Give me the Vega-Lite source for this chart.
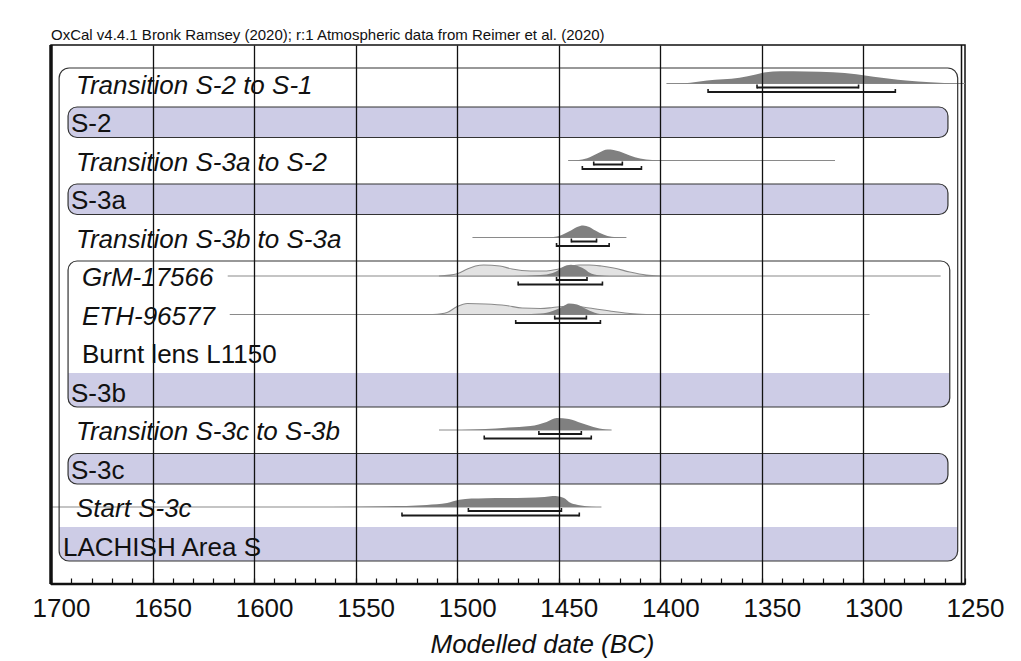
{
  "$schema": "https://vega.github.io/schema/vega-lite/v6.json",
  "width": 914,
  "height": 539,
  "autosize": "none",
  "padding": {"left": 51, "top": 45, "right": 56, "bottom": 77},
  "background": "white",
  "title": {
    "text": "OxCal v4.4.1 Bronk Ramsey (2020); r:1 Atmospheric data from Reimer et al. (2020)",
    "anchor": "start",
    "frame": "group",
    "fontSize": 15,
    "font": "Liberation Sans",
    "fontWeight": "normal",
    "color": "#111111",
    "offset": 0
  },
  "config": {
    "font": "Liberation Sans",
    "view": {"stroke": "#111111", "strokeWidth": 1.5}
  },
  "resolve": {"scale": {"y": "independent"}},
  "datasets": {
    "labels": [
      {"label": "Transition S-2 to S-1", "row": 1, "kind": "boundary"},
      {"label": "S-2", "row": 2, "kind": "phase"},
      {"label": "Transition S-3a to S-2", "row": 3, "kind": "boundary"},
      {"label": "S-3a", "row": 4, "kind": "phase"},
      {"label": "Transition S-3b to S-3a", "row": 5, "kind": "boundary"},
      {"label": "GrM-17566", "row": 6, "kind": "date"},
      {"label": "ETH-96577", "row": 7, "kind": "date"},
      {"label": "Burnt lens L1150", "row": 8, "kind": "context"},
      {"label": "S-3b", "row": 9, "kind": "group"},
      {"label": "Transition S-3c to S-3b", "row": 10, "kind": "boundary"},
      {"label": "S-3c", "row": 11, "kind": "phase"},
      {"label": "Start S-3c", "row": 12, "kind": "boundary"},
      {"label": "LACHISH Area S", "row": 13, "kind": "sequence"}
    ],
    "groups": [
      {"group": "LACHISH Area S", "first": 1, "last": 13, "level": 0},
      {"group": "S-3b", "first": 6, "last": 9, "level": 1}
    ],
    "ranges": [
      {"d": "t21", "row": 1, "from": 1397, "to": 1250},
      {"d": "t3a2", "row": 3, "from": 1445.4, "to": 1314},
      {"d": "t3b3a", "row": 5, "from": 1492.5, "to": 1416.7},
      {"d": "grm", "row": 6, "from": 1613, "to": 1262},
      {"d": "eth", "row": 7, "from": 1612, "to": 1297},
      {"d": "t3c3b", "row": 10, "from": 1509, "to": 1424},
      {"d": "start3c", "row": 12, "from": 1700, "to": 1429}
    ],
    "hpd": [
      {"d": "t21", "row": 1, "level": 68, "from": 1352.4, "to": 1302.4},
      {"d": "t21", "row": 1, "level": 95, "from": 1376.5, "to": 1284.3},
      {"d": "t3a2", "row": 3, "level": 68, "from": 1432.8, "to": 1418.7},
      {"d": "t3a2", "row": 3, "level": 95, "from": 1438.4, "to": 1409.3},
      {"d": "t3b3a", "row": 5, "level": 68, "from": 1443.8, "to": 1431.4},
      {"d": "t3b3a", "row": 5, "level": 95, "from": 1451.1, "to": 1425.2},
      {"d": "grm", "row": 6, "level": 68, "from": 1451.1, "to": 1436.1},
      {"d": "grm", "row": 6, "level": 95, "from": 1470, "to": 1428.5},
      {"d": "eth", "row": 7, "level": 68, "from": 1452, "to": 1436.4},
      {"d": "eth", "row": 7, "level": 95, "from": 1471.2, "to": 1429.5},
      {"d": "t3c3b", "row": 10, "level": 68, "from": 1459.8, "to": 1438.9},
      {"d": "t3c3b", "row": 10, "level": 95, "from": 1486.7, "to": 1434},
      {"d": "start3c", "row": 12, "level": 68, "from": 1494.5, "to": 1448.7},
      {"d": "start3c", "row": 12, "level": 95, "from": 1527.2, "to": 1439.9}
    ],
    "frame": [
      {"side": "left", "year": 1700},
      {"side": "right", "year": 1250}
    ],
    "dens": [
      {"d": "t21", "year": 1397, "p": 0},
      {"d": "t21", "year": 1388, "p": 0.03},
      {"d": "t21", "year": 1377, "p": 0.25},
      {"d": "t21", "year": 1361, "p": 0.47},
      {"d": "t21", "year": 1353, "p": 0.75},
      {"d": "t21", "year": 1348, "p": 0.94},
      {"d": "t21", "year": 1341, "p": 1.02},
      {"d": "t21", "year": 1328, "p": 1.0},
      {"d": "t21", "year": 1315, "p": 0.94},
      {"d": "t21", "year": 1303.5, "p": 0.78},
      {"d": "t21", "year": 1295, "p": 0.56},
      {"d": "t21", "year": 1287, "p": 0.39},
      {"d": "t21", "year": 1279, "p": 0.25},
      {"d": "t21", "year": 1267, "p": 0.11},
      {"d": "t21", "year": 1258, "p": 0.03},
      {"d": "t21", "year": 1252, "p": 0},
      {"d": "t3a2", "year": 1445, "p": 0},
      {"d": "t3a2", "year": 1441, "p": 0.03},
      {"d": "t3a2", "year": 1436, "p": 0.19},
      {"d": "t3a2", "year": 1431, "p": 0.58},
      {"d": "t3a2", "year": 1428, "p": 0.83},
      {"d": "t3a2", "year": 1426, "p": 0.92},
      {"d": "t3a2", "year": 1423, "p": 0.88},
      {"d": "t3a2", "year": 1420, "p": 0.75},
      {"d": "t3a2", "year": 1415, "p": 0.42},
      {"d": "t3a2", "year": 1410, "p": 0.17},
      {"d": "t3a2", "year": 1404, "p": 0.04},
      {"d": "t3a2", "year": 1398, "p": 0},
      {"d": "t3b3a", "year": 1456, "p": 0},
      {"d": "t3b3a", "year": 1451, "p": 0.08},
      {"d": "t3b3a", "year": 1448, "p": 0.25},
      {"d": "t3b3a", "year": 1445, "p": 0.5},
      {"d": "t3b3a", "year": 1441, "p": 0.88},
      {"d": "t3b3a", "year": 1438, "p": 1.0},
      {"d": "t3b3a", "year": 1435, "p": 0.88},
      {"d": "t3b3a", "year": 1432, "p": 0.58},
      {"d": "t3b3a", "year": 1428, "p": 0.25},
      {"d": "t3b3a", "year": 1424, "p": 0.06},
      {"d": "t3b3a", "year": 1419, "p": 0},
      {"d": "grm_prior", "year": 1509, "p": 0},
      {"d": "grm_prior", "year": 1500, "p": 0.19},
      {"d": "grm_prior", "year": 1495, "p": 0.58},
      {"d": "grm_prior", "year": 1491, "p": 0.83},
      {"d": "grm_prior", "year": 1487, "p": 0.92},
      {"d": "grm_prior", "year": 1479, "p": 0.83},
      {"d": "grm_prior", "year": 1473, "p": 0.58},
      {"d": "grm_prior", "year": 1464, "p": 0.42},
      {"d": "grm_prior", "year": 1456, "p": 0.42},
      {"d": "grm_prior", "year": 1450, "p": 0.58},
      {"d": "grm_prior", "year": 1444, "p": 0.83},
      {"d": "grm_prior", "year": 1440, "p": 0.92},
      {"d": "grm_prior", "year": 1435, "p": 0.92},
      {"d": "grm_prior", "year": 1429, "p": 0.83},
      {"d": "grm_prior", "year": 1423, "p": 0.67},
      {"d": "grm_prior", "year": 1415, "p": 0.33},
      {"d": "grm_prior", "year": 1407, "p": 0.08},
      {"d": "grm_prior", "year": 1400, "p": 0},
      {"d": "grm_post", "year": 1473, "p": 0},
      {"d": "grm_post", "year": 1459, "p": 0.08},
      {"d": "grm_post", "year": 1453, "p": 0.25},
      {"d": "grm_post", "year": 1450, "p": 0.5},
      {"d": "grm_post", "year": 1448, "p": 0.75},
      {"d": "grm_post", "year": 1444, "p": 0.94},
      {"d": "grm_post", "year": 1440, "p": 0.79},
      {"d": "grm_post", "year": 1437, "p": 0.55},
      {"d": "grm_post", "year": 1435, "p": 0.29},
      {"d": "grm_post", "year": 1430, "p": 0.06},
      {"d": "grm_post", "year": 1425, "p": 0},
      {"d": "eth_prior", "year": 1512, "p": 0},
      {"d": "eth_prior", "year": 1505, "p": 0.17},
      {"d": "eth_prior", "year": 1500, "p": 0.67},
      {"d": "eth_prior", "year": 1495, "p": 0.92},
      {"d": "eth_prior", "year": 1486, "p": 0.88},
      {"d": "eth_prior", "year": 1476, "p": 0.75},
      {"d": "eth_prior", "year": 1468, "p": 0.54},
      {"d": "eth_prior", "year": 1459, "p": 0.5},
      {"d": "eth_prior", "year": 1453, "p": 0.58},
      {"d": "eth_prior", "year": 1448, "p": 0.67},
      {"d": "eth_prior", "year": 1443, "p": 0.71},
      {"d": "eth_prior", "year": 1435, "p": 0.54},
      {"d": "eth_prior", "year": 1423, "p": 0.25},
      {"d": "eth_prior", "year": 1415, "p": 0.08},
      {"d": "eth_prior", "year": 1407, "p": 0},
      {"d": "eth_post", "year": 1473, "p": 0},
      {"d": "eth_post", "year": 1459, "p": 0.08},
      {"d": "eth_post", "year": 1453, "p": 0.29},
      {"d": "eth_post", "year": 1448, "p": 0.67},
      {"d": "eth_post", "year": 1445, "p": 0.92},
      {"d": "eth_post", "year": 1441, "p": 0.83},
      {"d": "eth_post", "year": 1436, "p": 0.42},
      {"d": "eth_post", "year": 1431, "p": 0.08},
      {"d": "eth_post", "year": 1427, "p": 0},
      {"d": "t3c3b", "year": 1509, "p": 0},
      {"d": "t3c3b", "year": 1498, "p": 0.01},
      {"d": "t3c3b", "year": 1486, "p": 0.08},
      {"d": "t3c3b", "year": 1476, "p": 0.19},
      {"d": "t3c3b", "year": 1464, "p": 0.33},
      {"d": "t3c3b", "year": 1456, "p": 0.67},
      {"d": "t3c3b", "year": 1451, "p": 1.0},
      {"d": "t3c3b", "year": 1445, "p": 0.92},
      {"d": "t3c3b", "year": 1439, "p": 0.58},
      {"d": "t3c3b", "year": 1433, "p": 0.25},
      {"d": "t3c3b", "year": 1427, "p": 0.04},
      {"d": "t3c3b", "year": 1424, "p": 0},
      {"d": "start3c", "year": 1574, "p": 0},
      {"d": "start3c", "year": 1550, "p": 0.02},
      {"d": "start3c", "year": 1535, "p": 0.06},
      {"d": "start3c", "year": 1515, "p": 0.17},
      {"d": "start3c", "year": 1505, "p": 0.33},
      {"d": "start3c", "year": 1499, "p": 0.6},
      {"d": "start3c", "year": 1493, "p": 0.7},
      {"d": "start3c", "year": 1486, "p": 0.73},
      {"d": "start3c", "year": 1476, "p": 0.75},
      {"d": "start3c", "year": 1466, "p": 0.78},
      {"d": "start3c", "year": 1457, "p": 0.83},
      {"d": "start3c", "year": 1453, "p": 0.92},
      {"d": "start3c", "year": 1450, "p": 0.88},
      {"d": "start3c", "year": 1447, "p": 0.7},
      {"d": "start3c", "year": 1445, "p": 0.42},
      {"d": "start3c", "year": 1442, "p": 0.22},
      {"d": "start3c", "year": 1439, "p": 0.12},
      {"d": "start3c", "year": 1434, "p": 0.03},
      {"d": "start3c", "year": 1429, "p": 0}
    ]
  },
  "layer": [
    {
      "data": {"name": "ranges"},
      "mark": {"type": "rule", "color": "#8a8a8a", "strokeWidth": 1.2},
      "encoding": {
        "x": {
          "field": "from",
          "type": "quantitative",
          "scale": {"domain": [1700, 1250], "nice": false, "zero": false},
          "axis": {
            "tickCount": 45,
            "format": "d",
            "labelExpr": "datum.value % 50 === 0 ? datum.label : ''",
            "labelFontSize": 26,
            "labelFont": "Liberation Sans",
            "labelColor": "#111111",
            "labelPadding": 11,
            "labelOffset": 10,
            "labelFlush": false,
            "labelOverlap": false,
            "grid": true,
            "gridColor": "#111111",
            "gridWidth": 1.3,
            "gridOpacity": {"condition": {"test": "datum.value % 50 === 0 && datum.value < 1700 && datum.value > 1250", "value": 1}, "value": 0},
            "ticks": true,
            "tickSize": 6,
            "tickColor": "#111111",
            "tickWidth": 1.2,
            "offset": -6,
            "domain": false,
            "title": "Modelled date (BC)",
            "titleFontSize": 26,
            "titleFontStyle": "italic",
            "titleFontWeight": "normal",
            "titleFont": "Liberation Sans",
            "titleColor": "#111111",
            "titleX": 491,
            "titleY": 74,
            "titleBaseline": "alphabetic",
            "titleAlign": "center",
            "zindex": 1
          }
        },
        "x2": {"field": "to"},
        "y": {"field": "row", "type": "quantitative", "axis": null, "scale": {"domain": [0, 14], "reverse": true, "nice": false, "zero": false}}
      }
    },
    {
      "data": {"name": "groups"},
      "transform": [{"filter": "datum.level == 0"}],
      "mark": {"type": "rect", "fill": "#cdcce6", "cornerRadiusBottomLeft": 10, "cornerRadiusBottomRight": 10, "yOffset": -18.5, "y2Offset": 15.5},
      "encoding": {
        "x": {"datum": 1696, "type": "quantitative"},
        "x2": {"datum": 1253.6},
        "y": {"field": "last", "type": "quantitative", "axis": null, "scale": {"domain": [0, 14], "reverse": true, "nice": false, "zero": false}},
        "y2": {"field": "last"}
      }
    },
    {
      "data": {"name": "groups"},
      "transform": [{"filter": "datum.level == 0"}],
      "mark": {"type": "rect", "fillOpacity": 0, "stroke": "#333333", "strokeWidth": 1.2, "cornerRadius": 10, "yOffset": -15.5, "y2Offset": 15.5},
      "encoding": {
        "x": {"datum": 1696, "type": "quantitative"},
        "x2": {"datum": 1253.6},
        "y": {"field": "first", "type": "quantitative", "axis": null, "scale": {"domain": [0, 14], "reverse": true, "nice": false, "zero": false}},
        "y2": {"field": "last"}
      }
    },
    {
      "data": {"name": "groups"},
      "transform": [{"filter": "datum.level == 1"}],
      "mark": {"type": "rect", "fill": "#cdcce6", "cornerRadiusBottomLeft": 9, "cornerRadiusBottomRight": 9, "yOffset": -18.5, "y2Offset": 15.5},
      "encoding": {
        "x": {"datum": 1691.6, "type": "quantitative"},
        "x2": {"datum": 1257.5},
        "y": {"field": "last", "type": "quantitative", "axis": null, "scale": {"domain": [0, 14], "reverse": true, "nice": false, "zero": false}},
        "y2": {"field": "last"}
      }
    },
    {
      "data": {"name": "groups"},
      "transform": [{"filter": "datum.level == 1"}],
      "mark": {"type": "rect", "fillOpacity": 0, "stroke": "#333333", "strokeWidth": 1.2, "cornerRadius": 9, "yOffset": -15, "y2Offset": 15.5},
      "encoding": {
        "x": {"datum": 1691.6, "type": "quantitative"},
        "x2": {"datum": 1257.5},
        "y": {"field": "first", "type": "quantitative", "axis": null, "scale": {"domain": [0, 14], "reverse": true, "nice": false, "zero": false}},
        "y2": {"field": "last"}
      }
    },
    {
      "data": {"name": "labels"},
      "transform": [{"filter": "datum.kind == 'phase'"}],
      "mark": {"type": "rect", "fill": "#cdcce6", "stroke": "#333333", "strokeWidth": 1.2, "cornerRadius": 9, "yOffset": -15, "y2Offset": 15.5},
      "encoding": {
        "x": {"datum": 1691.6, "type": "quantitative"},
        "x2": {"datum": 1258.4},
        "y": {"field": "row", "type": "quantitative", "axis": null, "scale": {"domain": [0, 14], "reverse": true, "nice": false, "zero": false}},
        "y2": {"field": "row"}
      }
    },
    {
      "data": {"name": "dens"},
      "transform": [{"filter": "datum.d == 't21'"}],
      "mark": {"type": "area", "interpolate": "monotone", "fill": "#808080"},
      "encoding": {
        "x": {"field": "year", "type": "quantitative"},
        "y": {"field": "p", "type": "quantitative", "stack": null, "axis": null, "scale": {"domain": [-41.7083, 3.2083], "nice": false, "zero": false}},
        "y2": {"datum": 0}
      }
    },
    {
      "data": {"name": "dens"},
      "transform": [{"filter": "datum.d == 't3a2'"}],
      "mark": {"type": "area", "interpolate": "monotone", "fill": "#808080"},
      "encoding": {
        "x": {"field": "year", "type": "quantitative"},
        "y": {"field": "p", "type": "quantitative", "stack": null, "axis": null, "scale": {"domain": [-35.2917, 9.625], "nice": false, "zero": false}},
        "y2": {"datum": 0}
      }
    },
    {
      "data": {"name": "dens"},
      "transform": [{"filter": "datum.d == 't3b3a'"}],
      "mark": {"type": "area", "interpolate": "monotone", "fill": "#808080"},
      "encoding": {
        "x": {"field": "year", "type": "quantitative"},
        "y": {"field": "p", "type": "quantitative", "stack": null, "axis": null, "scale": {"domain": [-28.875, 16.0417], "nice": false, "zero": false}},
        "y2": {"datum": 0}
      }
    },
    {
      "data": {"name": "dens"},
      "transform": [{"filter": "datum.d == 'grm_prior'"}],
      "mark": {"type": "area", "interpolate": "monotone", "fill": "#e2e2e2", "stroke": "#8a8a8a", "strokeWidth": 1.1},
      "encoding": {
        "x": {"field": "year", "type": "quantitative"},
        "y": {"field": "p", "type": "quantitative", "stack": null, "axis": null, "scale": {"domain": [-25.6667, 19.25], "nice": false, "zero": false}},
        "y2": {"datum": 0}
      }
    },
    {
      "data": {"name": "dens"},
      "transform": [{"filter": "datum.d == 'grm_post'"}],
      "mark": {"type": "area", "interpolate": "monotone", "fill": "#808080"},
      "encoding": {
        "x": {"field": "year", "type": "quantitative"},
        "y": {"field": "p", "type": "quantitative", "stack": null, "axis": null, "scale": {"domain": [-25.6667, 19.25], "nice": false, "zero": false}},
        "y2": {"datum": 0}
      }
    },
    {
      "data": {"name": "dens"},
      "transform": [{"filter": "datum.d == 'eth_prior'"}],
      "mark": {"type": "area", "interpolate": "monotone", "fill": "#e2e2e2", "stroke": "#8a8a8a", "strokeWidth": 1.1},
      "encoding": {
        "x": {"field": "year", "type": "quantitative"},
        "y": {"field": "p", "type": "quantitative", "stack": null, "axis": null, "scale": {"domain": [-22.4583, 22.4583], "nice": false, "zero": false}},
        "y2": {"datum": 0}
      }
    },
    {
      "data": {"name": "dens"},
      "transform": [{"filter": "datum.d == 'eth_post'"}],
      "mark": {"type": "area", "interpolate": "monotone", "fill": "#808080"},
      "encoding": {
        "x": {"field": "year", "type": "quantitative"},
        "y": {"field": "p", "type": "quantitative", "stack": null, "axis": null, "scale": {"domain": [-22.4583, 22.4583], "nice": false, "zero": false}},
        "y2": {"datum": 0}
      }
    },
    {
      "data": {"name": "dens"},
      "transform": [{"filter": "datum.d == 't3c3b'"}],
      "mark": {"type": "area", "interpolate": "monotone", "fill": "#808080"},
      "encoding": {
        "x": {"field": "year", "type": "quantitative"},
        "y": {"field": "p", "type": "quantitative", "stack": null, "axis": null, "scale": {"domain": [-12.8333, 32.0833], "nice": false, "zero": false}},
        "y2": {"datum": 0}
      }
    },
    {
      "data": {"name": "dens"},
      "transform": [{"filter": "datum.d == 'start3c'"}],
      "mark": {"type": "area", "interpolate": "monotone", "fill": "#808080"},
      "encoding": {
        "x": {"field": "year", "type": "quantitative"},
        "y": {"field": "p", "type": "quantitative", "stack": null, "axis": null, "scale": {"domain": [-6.4167, 38.5], "nice": false, "zero": false}},
        "y2": {"datum": 0}
      }
    },
    {
      "data": {"name": "hpd"},
      "transform": [{"filter": "datum.level == 68"}],
      "mark": {"type": "rule", "color": "#1a1a1a", "strokeWidth": 2, "yOffset": 4},
      "encoding": {
        "x": {"field": "from", "type": "quantitative"},
        "x2": {"field": "to"},
        "y": {"field": "row", "type": "quantitative", "axis": null, "scale": {"domain": [0, 14], "reverse": true, "nice": false, "zero": false}}
      }
    },
    {
      "data": {"name": "hpd"},
      "transform": [{"filter": "datum.level == 95"}],
      "mark": {"type": "rule", "color": "#1a1a1a", "strokeWidth": 2, "yOffset": 8.5},
      "encoding": {
        "x": {"field": "from", "type": "quantitative"},
        "x2": {"field": "to"},
        "y": {"field": "row", "type": "quantitative", "axis": null, "scale": {"domain": [0, 14], "reverse": true, "nice": false, "zero": false}}
      }
    },
    {
      "data": {"name": "hpd"},
      "transform": [{"filter": "datum.level == 68"}, {"fold": ["from", "to"], "as": ["end", "edge"]}],
      "mark": {"type": "rule", "color": "#1a1a1a", "strokeWidth": 1.6, "yOffset": 1, "y2Offset": 5},
      "encoding": {
        "x": {"field": "edge", "type": "quantitative"},
        "y": {"field": "row", "type": "quantitative", "axis": null, "scale": {"domain": [0, 14], "reverse": true, "nice": false, "zero": false}},
        "y2": {"field": "row"}
      }
    },
    {
      "data": {"name": "hpd"},
      "transform": [{"filter": "datum.level == 95"}, {"fold": ["from", "to"], "as": ["end", "edge"]}],
      "mark": {"type": "rule", "color": "#1a1a1a", "strokeWidth": 1.6, "yOffset": 5.5, "y2Offset": 9.5},
      "encoding": {
        "x": {"field": "edge", "type": "quantitative"},
        "y": {"field": "row", "type": "quantitative", "axis": null, "scale": {"domain": [0, 14], "reverse": true, "nice": false, "zero": false}},
        "y2": {"field": "row"}
      }
    },
    {
      "data": {"name": "labels"},
      "transform": [{"filter": "datum.kind == 'boundary'"}],
      "mark": {"type": "text", "align": "left", "baseline": "alphabetic", "dx": 25, "dy": 10, "fontSize": 26, "fontStyle": "italic", "font": "Liberation Sans", "color": "#111111"},
      "encoding": {
        "x": {"datum": 1700, "type": "quantitative"},
        "y": {"field": "row", "type": "quantitative", "axis": null, "scale": {"domain": [0, 14], "reverse": true, "nice": false, "zero": false}},
        "text": {"field": "label"}
      }
    },
    {
      "data": {"name": "labels"},
      "transform": [{"filter": "datum.kind == 'date'"}],
      "mark": {"type": "text", "align": "left", "baseline": "alphabetic", "dx": 31, "dy": 10, "fontSize": 26, "fontStyle": "italic", "font": "Liberation Sans", "color": "#111111"},
      "encoding": {
        "x": {"datum": 1700, "type": "quantitative"},
        "y": {"field": "row", "type": "quantitative", "axis": null, "scale": {"domain": [0, 14], "reverse": true, "nice": false, "zero": false}},
        "text": {"field": "label"}
      }
    },
    {
      "data": {"name": "labels"},
      "transform": [{"filter": "datum.kind == 'context'"}],
      "mark": {"type": "text", "align": "left", "baseline": "alphabetic", "dx": 31, "dy": 10, "fontSize": 26, "font": "Liberation Sans", "color": "#111111"},
      "encoding": {
        "x": {"datum": 1700, "type": "quantitative"},
        "y": {"field": "row", "type": "quantitative", "axis": null, "scale": {"domain": [0, 14], "reverse": true, "nice": false, "zero": false}},
        "text": {"field": "label"}
      }
    },
    {
      "data": {"name": "labels"},
      "transform": [{"filter": "datum.kind == 'phase' || datum.kind == 'group'"}],
      "mark": {"type": "text", "align": "left", "baseline": "alphabetic", "dx": 20, "dy": 10, "fontSize": 26, "font": "Liberation Sans", "color": "#111111"},
      "encoding": {
        "x": {"datum": 1700, "type": "quantitative"},
        "y": {"field": "row", "type": "quantitative", "axis": null, "scale": {"domain": [0, 14], "reverse": true, "nice": false, "zero": false}},
        "text": {"field": "label"}
      }
    },
    {
      "data": {"name": "labels"},
      "transform": [{"filter": "datum.kind == 'sequence'"}],
      "mark": {"type": "text", "align": "left", "baseline": "alphabetic", "dx": 12, "dy": 10, "fontSize": 26, "font": "Liberation Sans", "color": "#111111"},
      "encoding": {
        "x": {"datum": 1700, "type": "quantitative"},
        "y": {"field": "row", "type": "quantitative", "axis": null, "scale": {"domain": [0, 14], "reverse": true, "nice": false, "zero": false}},
        "text": {"field": "label"}
      }
    },
    {
      "data": {"name": "frame"},
      "transform": [{"filter": "datum.side == 'left'"}],
      "mark": {"type": "rule", "color": "#111111", "strokeWidth": 3.5},
      "encoding": {
        "x": {"field": "year", "type": "quantitative"}
      }
    },
    {
      "data": {"name": "frame"},
      "transform": [{"filter": "datum.side == 'left'"}],
      "mark": {"type": "rule", "color": "#111111", "strokeWidth": 2.5},
      "encoding": {
        "y": {"datum": 14, "type": "quantitative", "axis": null, "scale": {"domain": [0, 14], "reverse": true, "nice": false, "zero": false}}
      }
    },
    {
      "data": {"name": "frame"},
      "transform": [{"filter": "datum.side == 'right'"}],
      "mark": {"type": "rule", "color": "#111111", "strokeWidth": 1.5, "xOffset": -3.5},
      "encoding": {
        "x": {"field": "year", "type": "quantitative"}
      }
    }
  ]
}
